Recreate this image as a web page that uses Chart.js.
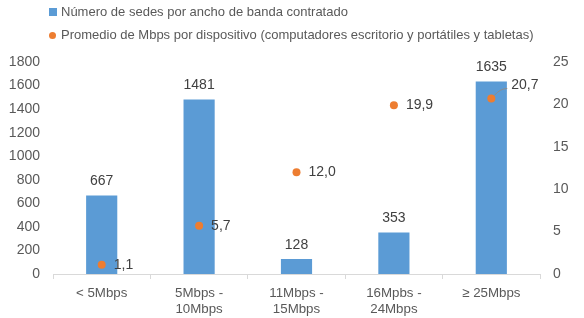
<!DOCTYPE html>
<html>
<head>
<meta charset="utf-8">
<script src="https://cdn.jsdelivr.net/npm/chart.js@4/dist/chart.umd.min.js"></script>
<style>
  html, body { margin: 0; padding: 0; background: #fff; }
  #wrap { position: relative; width: 584px; height: 318px; }
  #legend { position: absolute; left: 49px; top: 3px; font-family: "Liberation Sans", Arial, sans-serif; font-size: 13px; color: #595959; }
  #legend div { height: 23px; line-height: 18px; white-space: nowrap; }
  .sw { display: inline-block; width: 8px; height: 8px; margin-right: 4px; vertical-align: 0px; }
  .dot { width: 7px; height: 7px; border-radius: 50%; margin-right: 5px; }
</style>
</head>
<body>
<div id="wrap">
  <canvas id="chart" width="584" height="318"></canvas>
  <div id="legend"></div>
</div>
<script>
  // --- Data ---
  const categories = [["< 5Mbps"], ["5Mbps -", "10Mbps"], ["11Mbps -", "15Mbps"], ["16Mpbs -", "24Mbps"], ["\u2265 25Mbps"]];
  const sedes = [667, 1481, 128, 353, 1635];
  const promedioMbps = [1.1, 5.7, 12.0, 19.9, 20.7];
  const seriesNames = [
    "Número de sedes por ancho de banda contratado",
    "Promedio de Mbps por dispositivo (computadores escritorio y portátiles y tabletas)"
  ];

  const BLUE = "#5B9BD5";
  const ORANGE = "#ED7D31";
  const FONT = "'Liberation Sans', Arial, sans-serif";

  // --- HTML legend ---
  const legendEl = document.getElementById("legend");
  legendEl.innerHTML =
    `<div><span class="sw" style="background:${BLUE}"></span>${seriesNames[0]}</div>` +
    `<div><span class="sw dot" style="background:${ORANGE}"></span>${seriesNames[1]}</div>`;

  // --- Data labels plugin ---
  const labelPlugin = {
    id: "labels",
    afterDatasetsDraw(chart) {
      const ctx = chart.ctx;
      ctx.save();
      ctx.font = "14px " + FONT;
      ctx.fillStyle = "#404040";
      ctx.textBaseline = "middle";

      const bars = chart.getDatasetMeta(0).data;
      ctx.textAlign = "center";
      bars.forEach((bar, i) => {
        ctx.fillText(String(sedes[i]), bar.x, bar.y - 14);
      });

      const pts = chart.getDatasetMeta(1).data;
      ctx.textAlign = "left";
      pts.forEach((pt, i) => {
        const txt = promedioMbps[i].toFixed(1).replace(".", ",");
        if (i === pts.length - 1) {
          // leader line for the last label
          ctx.strokeStyle = "#8c8c8c";
          ctx.lineWidth = 1;
          ctx.beginPath();
          ctx.moveTo(pt.x + 3, pt.y - 3);
          ctx.quadraticCurveTo(pt.x + 9, pt.y - 10, pt.x + 16, pt.y - 10);
          ctx.stroke();
          ctx.fillText(txt, pt.x + 20, pt.y - 13);
        } else {
          ctx.fillText(txt, pt.x + 12, pt.y);
        }
      });
      ctx.restore();
    }
  };

  new Chart(document.getElementById("chart"), {
    type: "bar",
    data: {
      labels: categories,
      datasets: [
        {
          label: seriesNames[0],
          data: sedes,
          backgroundColor: BLUE,
          barPercentage: 0.32,
          categoryPercentage: 1,
          yAxisID: "y",
          order: 2
        },
        {
          type: "line",
          label: seriesNames[1],
          data: promedioMbps,
          showLine: false,
          pointRadius: 4,
          pointBackgroundColor: ORANGE,
          pointBorderWidth: 0,
          borderColor: ORANGE,
          yAxisID: "y1",
          order: 1
        }
      ]
    },
    options: {
      responsive: false,
      animation: false,
      layout: { padding: { top: 62, left: 0, right: 0, bottom: 0 } },
      plugins: { legend: { display: false }, tooltip: { enabled: false } },
      scales: {
        x: {
          grid: { display: true, drawOnChartArea: false, drawTicks: true, tickLength: 5, color: "#d9d9d9", offset: true },
          border: { display: true, color: "#d9d9d9" },
          ticks: { color: "#595959", font: { family: FONT, size: 13.3 }, padding: 6, maxRotation: 0, autoSkip: false },
          afterFit(s) { s.height = 44; }
        },
        y: {
          position: "left",
          min: 0, max: 1800,
          grid: { display: false, drawTicks: false },
          border: { display: false },
          ticks: { stepSize: 200, color: "#595959", font: { family: FONT, size: 14 }, padding: 13, callback: v => String(v) },
          afterFit(s) { s.width = 53; }
        },
        y1: {
          position: "right",
          min: 0, max: 25,
          grid: { display: false, drawTicks: false },
          border: { display: false },
          ticks: { stepSize: 5, color: "#595959", font: { family: FONT, size: 14 }, padding: 13, callback: v => String(v) },
          afterFit(s) { s.width = 44; }
        }
      }
    },
    plugins: [labelPlugin]
  });
</script>
</body>
</html>
